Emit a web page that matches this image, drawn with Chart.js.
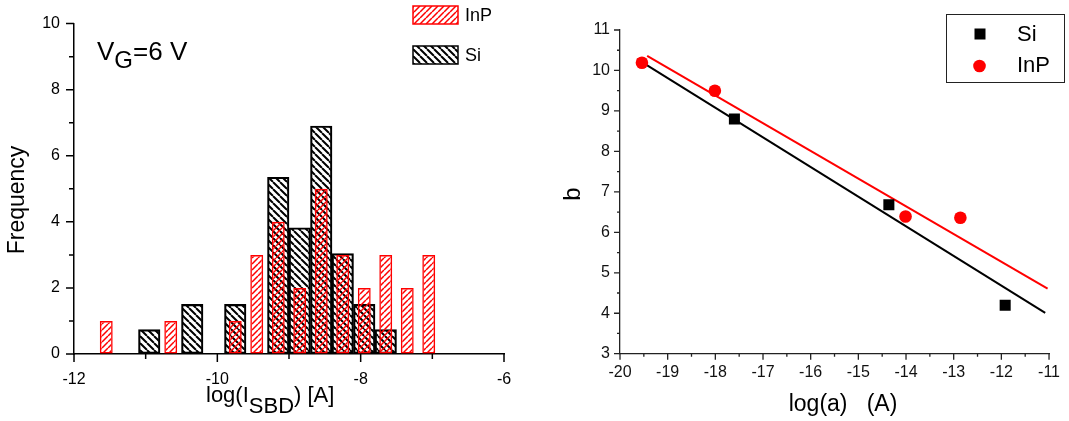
<!DOCTYPE html>
<html><head><meta charset="utf-8">
<script src="https://cdn.jsdelivr.net/npm/chart.js@4/dist/chart.umd.min.js"></script>
<style>
html,body{margin:0;padding:0;background:#fff;overflow:hidden}
#wrap{position:relative;width:1069px;height:421px;background:#fff}
canvas{position:absolute;top:0}
#c1{left:0}
#c2{left:540px}
</style></head><body>
<div id="wrap"><canvas id="c1" width="540" height="421"></canvas><canvas id="c2" width="529" height="421"></canvas></div>
<script>
// ---------- Left panel: histogram of log(I_SBD) ----------
const inpBins = [-11.55, -10.65, -9.75, -9.45, -9.15, -8.85, -8.55, -8.25, -7.95, -7.65, -7.35, -7.05];
const inpFreq = [1, 1, 1, 3, 4, 2, 5, 3, 2, 3, 2, 3];
const siBins  = [-10.95, -10.35, -9.75, -9.15, -8.85, -8.55, -8.25, -7.95, -7.65];
const siFreq  = [0.74, 1.5, 1.5, 5.35, 3.82, 6.9, 3.04, 1.5, 0.74];
const histXTicks = [-12, -10, -8, -6];
const histXMinor = [-11, -9, -7];
const histYTicks = [0, 2, 4, 6, 8, 10];
const histYMinor = [1, 3, 5, 7, 9];

// ---------- Right panel: b vs log(a) ----------
const siLogA  = [-17.6, -14.36, -11.92];
const siB     = [8.8, 6.68, 4.2];
const inpLogA = [-19.54, -18.01, -14.01, -12.86];
const inpB    = [10.19, 9.5, 6.39, 6.36];
const siFitX  = [-19.64, -11.08];
const siFitY  = [10.28, 4.01];
const inpFitX = [-19.43, -11.03];
const inpFitY = [10.36, 4.61];
const fitXTicks = [-20, -19, -18, -17, -16, -15, -14, -13, -12, -11];
const fitXMinor = [-19.5, -18.5, -17.5, -16.5, -15.5, -14.5, -13.5, -12.5, -11.5];
const fitYTicks = [3, 4, 5, 6, 7, 8, 9, 10, 11];
const fitYMinor = [3.5, 4.5, 5.5, 6.5, 7.5, 8.5, 9.5, 10.5];

const FONT = "'Liberation Sans', Arial, sans-serif";

function hatch(ctxRef, color, dir, period, lw) {
  const c = document.createElement('canvas');
  c.width = period; c.height = period;
  const g = c.getContext('2d');
  g.strokeStyle = color; g.lineWidth = lw;
  g.beginPath();
  for (const k of [-period, 0, period]) {
    if (dir === 'back') { g.moveTo(k, 0); g.lineTo(k + period, period); }
    else { g.moveTo(k, period); g.lineTo(k + period, 0); }
  }
  g.stroke();
  return ctxRef.createPattern(c, 'repeat');
}

function minorTickPlugin(id, xMajor, xMinor, yMajor, yMinor, majLen, minLen, color, lw) {
  return {
    id,
    afterDraw(chart) {
      const ctx = chart.ctx, xs = chart.scales.x, ys = chart.scales.y;
      const ca = chart.chartArea;
      ctx.save();
      ctx.strokeStyle = color; ctx.lineWidth = lw;
      ctx.beginPath();
      const xt = (v, len) => { const p = xs.getPixelForValue(v); ctx.moveTo(p, ca.bottom); ctx.lineTo(p, ca.bottom + len); };
      const yt = (v, len) => { const p = ys.getPixelForValue(v); ctx.moveTo(ca.left, p); ctx.lineTo(ca.left - len, p); };
      xMajor.forEach(v => xt(v, majLen)); xMinor.forEach(v => xt(v, minLen));
      yMajor.forEach(v => yt(v, majLen)); yMinor.forEach(v => yt(v, minLen));
      ctx.stroke();
      ctx.restore();
    }
  };
}

// ---------- Chart 1 ----------
const c1 = document.getElementById('c1');
const ctx1 = c1.getContext('2d');
const inpPattern = hatch(ctx1, '#ff0000', 'fwd', 6, 1.5);
const siPattern = hatch(ctx1, '#000000', 'back', 7, 2);

const hist1Text = {
  id: 'hist1Text',
  afterDraw(chart) {
    const ctx = chart.ctx;
    ctx.save();
    ctx.fillStyle = '#000';
    // y title
    ctx.save();
    ctx.translate(18, 200);
    ctx.rotate(-Math.PI / 2);
    ctx.font = '23px ' + FONT;
    ctx.textAlign = 'center'; ctx.textBaseline = 'middle';
    ctx.fillText('Frequency', 0, 0);
    ctx.restore();
    // x title with subscript
    ctx.textAlign = 'left'; ctx.textBaseline = 'alphabetic';
    ctx.font = '22px ' + FONT;
    let x = 206;
    ctx.fillText('log(I', x, 402); x += ctx.measureText('log(I').width;
    ctx.fillText('SBD', x, 413); x += ctx.measureText('SBD').width;
    ctx.fillText(') [A]', x, 402);
    // annotation V_G = 6 V
    x = 97;
    ctx.font = '26px ' + FONT;
    ctx.fillText('V', x, 60); x += ctx.measureText('V').width;
    ctx.font = '24px ' + FONT;
    ctx.fillText('G', x, 68); x += ctx.measureText('G').width;
    ctx.font = '26px ' + FONT;
    ctx.fillText('=6 V', x, 60);
    // legend
    const items = chart.data.datasets;
    const rows = [{ y: 6, ds: items[0] }, { y: 46, ds: items[1] }];
    ctx.font = '18px ' + FONT;
    ctx.textBaseline = 'middle';
    rows.forEach(r => {
      ctx.fillStyle = r.ds.backgroundColor;
      ctx.fillRect(413, r.y, 45, 18);
      ctx.strokeStyle = r.ds.borderColor; ctx.lineWidth = 1.5;
      ctx.strokeRect(413, r.y, 45, 18);
      ctx.fillStyle = '#000';
      ctx.fillText(r.ds.label, 465, r.y + 10);
    });
    ctx.restore();
  }
};

new Chart(c1, {
  type: 'bar',
  data: {
    datasets: [
      {
        label: 'InP',
        data: inpBins.map((b, i) => ({ x: b, y: inpFreq[i] })),
        backgroundColor: inpPattern, borderColor: '#ff0000', borderWidth: 1.5,
        borderSkipped: false, barPercentage: 0.6, categoryPercentage: 1, grouped: false
      },
      {
        label: 'Si',
        data: siBins.map((b, i) => ({ x: b, y: siFreq[i] })),
        backgroundColor: siPattern, borderColor: '#000000', borderWidth: 1.5,
        borderSkipped: false, barPercentage: 1, categoryPercentage: 1, grouped: false
      }
    ]
  },
  options: {
    responsive: false, animation: false, devicePixelRatio: 1,
    layout: { padding: { left: 0, top: 19, right: 36, bottom: 0 } },
    plugins: { legend: { display: false }, tooltip: { enabled: false } },
    scales: {
      x: {
        type: 'linear', min: -12, max: -6, offset: false,
        afterBuildTicks: s => { s.ticks = histXTicks.map(v => ({ value: v })); },
        afterFit: s => { s.height = 67; },
        grid: { display: true, drawOnChartArea: false, drawTicks: false },
        border: { display: true, color: '#000', width: 1.5 },
        ticks: { color: '#000', font: { family: FONT, size: 16 }, padding: 16, maxRotation: 0,
                 callback: v => String(v) }
      },
      y: {
        type: 'linear', min: 0, max: 10,
        afterBuildTicks: s => { s.ticks = histYTicks.map(v => ({ value: v })); },
        afterFit: s => { s.width = 74; },
        grid: { display: true, drawOnChartArea: false, drawTicks: false },
        border: { display: true, color: '#000', width: 1.5 },
        ticks: { color: '#000', font: { family: FONT, size: 16 }, padding: 14 }
      }
    }
  },
  plugins: [minorTickPlugin('ticks1', histXTicks, histXMinor, histYTicks, histYMinor, 8, 5, '#000', 1.5), hist1Text]
});

// ---------- Chart 2 ----------
const c2 = document.getElementById('c2');
const fit2Text = {
  id: 'fit2Text',
  afterDraw(chart) {
    const ctx = chart.ctx;
    ctx.save();
    ctx.fillStyle = '#000';
    ctx.save();
    ctx.translate(33, 194);
    ctx.rotate(-Math.PI / 2);
    ctx.font = '24px ' + FONT;
    ctx.textAlign = 'center'; ctx.textBaseline = 'middle';
    ctx.fillText('b', 0, 0);
    ctx.restore();
    ctx.font = '23px ' + FONT;
    ctx.textAlign = 'center'; ctx.textBaseline = 'middle';
    ctx.fillText('log(a)   (A)', 303, 405);
    // legend box
    ctx.strokeStyle = '#222'; ctx.lineWidth = 1;
    ctx.strokeRect(406.5, 14.5, 118, 68);
    const ds = chart.data.datasets;
    ctx.fillStyle = ds[0].backgroundColor;
    ctx.fillRect(434.5, 28.5, 11, 11);
    ctx.fillStyle = ds[1].backgroundColor;
    ctx.beginPath(); ctx.arc(439.5, 66, 6.3, 0, Math.PI * 2); ctx.fill();
    ctx.fillStyle = '#000';
    ctx.font = '22px ' + FONT;
    ctx.textAlign = 'left'; ctx.textBaseline = 'middle';
    ctx.fillText(ds[0].label, 477, 35);
    ctx.fillText(ds[1].label, 477, 66);
    ctx.restore();
  }
};

new Chart(c2, {
  type: 'scatter',
  data: {
    datasets: [
      {
        label: 'Si',
        data: siLogA.map((a, i) => ({ x: a, y: siB[i] })),
        pointStyle: 'rect', pointRadius: 7.8, backgroundColor: '#000', borderColor: '#000', borderWidth: 0, showLine: false
      },
      {
        label: 'InP',
        data: inpLogA.map((a, i) => ({ x: a, y: inpB[i] })),
        pointStyle: 'circle', pointRadius: 6.3, backgroundColor: '#ff0000', borderColor: '#ff0000', borderWidth: 0, showLine: false
      },
      {
        label: 'Si fit',
        data: siFitX.map((a, i) => ({ x: a, y: siFitY[i] })),
        showLine: true, pointRadius: 0, borderColor: '#000', borderWidth: 2, fill: false
      },
      {
        label: 'InP fit',
        data: inpFitX.map((a, i) => ({ x: a, y: inpFitY[i] })),
        showLine: true, pointRadius: 0, borderColor: '#ff0000', borderWidth: 2, fill: false
      }
    ]
  },
  options: {
    responsive: false, animation: false, devicePixelRatio: 1,
    layout: { padding: { left: 0, top: 30, right: 14.3, bottom: 0 } },
    plugins: { legend: { display: false }, tooltip: { enabled: false } },
    scales: {
      x: {
        type: 'linear', min: -20, max: -11,
        afterBuildTicks: s => { s.ticks = fitXTicks.map(v => ({ value: v })); },
        afterFit: s => { s.height = 67.3; },
        grid: { display: true, drawOnChartArea: false, drawTicks: false },
        border: { display: true, color: '#222', width: 1.3 },
        ticks: { color: '#111', font: { family: FONT, size: 16 }, padding: 9, maxRotation: 0 }
      },
      y: {
        type: 'linear', min: 3, max: 11,
        afterBuildTicks: s => { s.ticks = fitYTicks.map(v => ({ value: v })); },
        afterFit: s => { s.width = 80; },
        grid: { display: true, drawOnChartArea: false, drawTicks: false },
        border: { display: true, color: '#222', width: 1.3 },
        ticks: { color: '#111', font: { family: FONT, size: 16 }, padding: 10 }
      }
    }
  },
  plugins: [minorTickPlugin('ticks2', fitXTicks, fitXMinor, fitYTicks, fitYMinor, 6, 3, '#222', 1.3), fit2Text]
});
</script>
</body></html>
